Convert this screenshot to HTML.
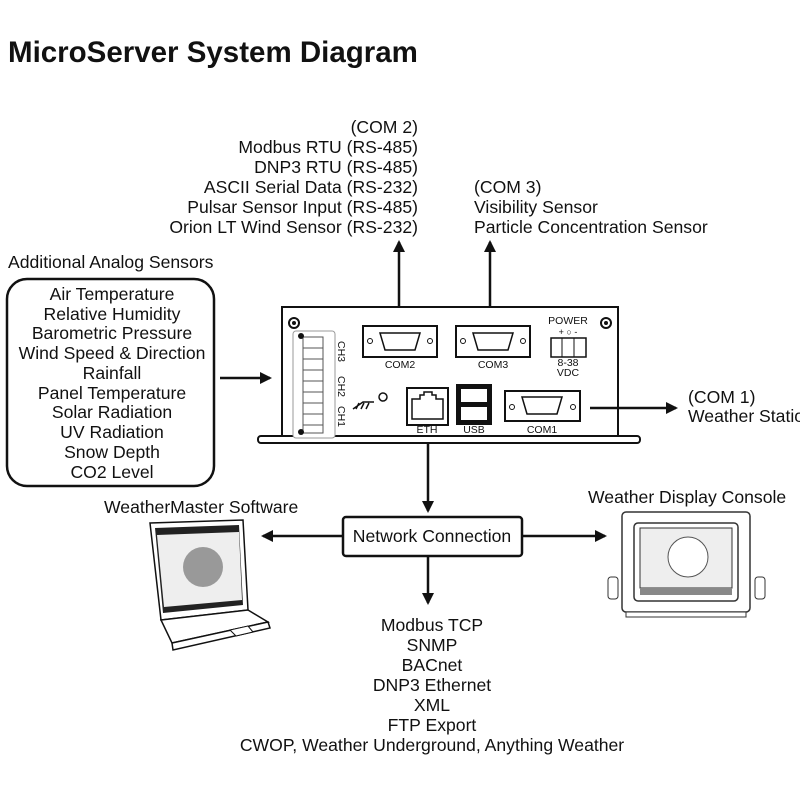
<!DOCTYPE html>
<html><head><meta charset="utf-8"><style>
html,body{margin:0;padding:0;background:#fff;width:800px;height:800px;overflow:hidden}
svg{display:block}
text{font-family:"Liberation Sans",Arial,sans-serif;fill:#111}
</style></head><body>
<svg width="800" height="800" viewBox="0 0 800 800" xmlns="http://www.w3.org/2000/svg">
<defs>
<marker id="ah" markerWidth="12" markerHeight="12" refX="10" refY="6" orient="auto" markerUnits="userSpaceOnUse">
<path d="M0,0 L12,6 L0,12 z" fill="#111"/></marker>
</defs>
<text x="8" y="62" font-size="29.5" font-weight="bold">MicroServer System Diagram</text>

<g font-size="17.6" text-anchor="end">
<text x="418" y="133">(COM 2)</text>
<text x="418" y="153">Modbus RTU (RS-485)</text>
<text x="418" y="173">DNP3 RTU (RS-485)</text>
<text x="418" y="193">ASCII Serial Data (RS-232)</text>
<text x="418" y="213">Pulsar Sensor Input (RS-485)</text>
<text x="418" y="233">Orion LT Wind Sensor (RS-232)</text>
</g>
<g font-size="17.6">
<text x="474" y="193">(COM 3)</text>
<text x="474" y="213">Visibility Sensor</text>
<text x="474" y="233">Particle Concentration Sensor</text>
<text x="8" y="268">Additional Analog Sensors</text>
<text x="688" y="403">(COM 1)</text>
<text x="688" y="422">Weather Station</text>
<text x="104" y="513">WeatherMaster Software</text>
<text x="588" y="503">Weather Display Console</text>
</g>
<line x1="399" y1="313" x2="399" y2="242" stroke="#111" stroke-width="2.5" marker-end="url(#ah)"/>
<line x1="490" y1="313" x2="490" y2="242" stroke="#111" stroke-width="2.5" marker-end="url(#ah)"/>

<rect x="7" y="279" width="207" height="207" rx="20" fill="#fff" stroke="#111" stroke-width="2.5"/>
<g font-size="17.6" text-anchor="middle">
<text x="112" y="300">Air Temperature</text>
<text x="112" y="320">Relative Humidity</text>
<text x="112" y="339">Barometric Pressure</text>
<text x="112" y="359">Wind Speed &amp; Direction</text>
<text x="112" y="379">Rainfall</text>
<text x="112" y="399">Panel Temperature</text>
<text x="112" y="418">Solar Radiation</text>
<text x="112" y="438">UV Radiation</text>
<text x="112" y="458">Snow Depth</text>
<text x="112" y="478">CO2 Level</text>
</g>
<line x1="220" y1="378" x2="270" y2="378" stroke="#111" stroke-width="2.5" marker-end="url(#ah)"/>

<!-- device -->
<rect x="282" y="307" width="336" height="130" fill="#fff" stroke="#111" stroke-width="2"/>
<rect x="258" y="436" width="382" height="7" rx="3" fill="#fff" stroke="#111" stroke-width="2"/>
<circle cx="294" cy="323" r="5" fill="none" stroke="#111" stroke-width="2"/><circle cx="294" cy="323" r="2" fill="#111"/>
<circle cx="606" cy="323" r="5" fill="none" stroke="#111" stroke-width="2"/><circle cx="606" cy="323" r="2" fill="#111"/>
<rect x="293" y="331" width="42" height="107" rx="3" fill="#fff" stroke="#999" stroke-width="1"/>
<g stroke="#555" fill="#fff" stroke-width="1">
<rect x="303" y="337" width="20" height="11"/><rect x="303" y="348" width="20" height="11"/><rect x="303" y="359" width="20" height="11"/><rect x="303" y="370" width="20" height="11"/><rect x="303" y="381" width="20" height="11"/><rect x="303" y="392" width="20" height="11"/><rect x="303" y="403" width="20" height="11"/><rect x="303" y="414" width="20" height="11"/><rect x="303" y="425" width="20" height="8"/>
</g>
<circle cx="301" cy="336" r="3" fill="#111"/><circle cx="301" cy="432" r="3" fill="#111"/>
<g font-size="10.5" transform="rotate(90)">
<text x="341" y="-338">CH3</text><text x="376" y="-338">CH2</text><text x="406" y="-338">CH1</text>
</g>
<path d="M353,409 L363,402 L374,402 M356,409 L359,403 M361,409 L364,403 M366,409 L369,403" stroke="#111" stroke-width="1.5" fill="none"/>
<circle cx="383" cy="397" r="4" fill="#fff" stroke="#111" stroke-width="1.5"/>

<rect x="363" y="326" width="74" height="31" fill="#fff" stroke="#111" stroke-width="2"/>
<path d="M380,333 h40 l-5,17 h-30 z" fill="#fff" stroke="#111" stroke-width="1.5"/>
<circle cx="370" cy="341" r="2.5" fill="none" stroke="#111"/><circle cx="430" cy="341" r="2.5" fill="none" stroke="#111"/>
<text x="400" y="368" font-size="10.5" text-anchor="middle">COM2</text>
<rect x="456" y="326" width="74" height="31" fill="#fff" stroke="#111" stroke-width="2"/>
<path d="M473,333 h40 l-5,17 h-30 z" fill="#fff" stroke="#111" stroke-width="1.5"/>
<circle cx="463" cy="341" r="2.5" fill="none" stroke="#111"/><circle cx="523" cy="341" r="2.5" fill="none" stroke="#111"/>
<text x="493" y="368" font-size="10.5" text-anchor="middle">COM3</text>
<text x="568" y="324" font-size="10.5" text-anchor="middle">POWER</text>
<text x="568" y="335" font-size="9" text-anchor="middle">+ ○ -</text>
<rect x="551" y="338" width="35" height="19" fill="#fff" stroke="#111" stroke-width="1.5"/>
<line x1="562" y1="338" x2="562" y2="357" stroke="#111"/><line x1="574" y1="338" x2="574" y2="357" stroke="#111"/>
<text x="568" y="366" font-size="10.5" text-anchor="middle">8-38</text>
<text x="568" y="376" font-size="10.5" text-anchor="middle">VDC</text>

<rect x="407" y="388" width="41" height="37" fill="#fff" stroke="#111" stroke-width="2"/>
<path d="M412,419 v-20 h8 v-4 h4 v-3 h8 v3 h4 v4 h7 v20 z" fill="#fff" stroke="#111" stroke-width="1.5"/>
<text x="427" y="433" font-size="10.5" text-anchor="middle">ETH</text>
<rect x="456" y="384" width="36" height="41" fill="#111"/>
<rect x="461" y="389" width="26" height="13" fill="#fff"/><rect x="461" y="407" width="26" height="13" fill="#fff"/>
<text x="474" y="433" font-size="10.5" text-anchor="middle">USB</text>
<rect x="505" y="391" width="75" height="30" fill="#fff" stroke="#111" stroke-width="2"/>
<path d="M522,397 h40 l-5,17 h-30 z" fill="#fff" stroke="#111" stroke-width="1.5"/>
<circle cx="512" cy="407" r="2.5" fill="none" stroke="#111"/><circle cx="573" cy="407" r="2.5" fill="none" stroke="#111"/>
<text x="542" y="433" font-size="10.5" text-anchor="middle">COM1</text>

<line x1="590" y1="408" x2="676" y2="408" stroke="#111" stroke-width="2.5" marker-end="url(#ah)"/>
<line x1="428" y1="444" x2="428" y2="511" stroke="#111" stroke-width="2.5" marker-end="url(#ah)"/>
<rect x="343" y="517" width="179" height="39" rx="3" fill="#fff" stroke="#111" stroke-width="2.5"/>
<text x="432" y="542" font-size="17.6" text-anchor="middle">Network Connection</text>
<line x1="343" y1="536" x2="263" y2="536" stroke="#111" stroke-width="2.5" marker-end="url(#ah)"/>
<line x1="522" y1="536" x2="605" y2="536" stroke="#111" stroke-width="2.5" marker-end="url(#ah)"/>
<line x1="428" y1="556" x2="428" y2="603" stroke="#111" stroke-width="2.5" marker-end="url(#ah)"/>
<g font-size="17.6" text-anchor="middle">
<text x="432" y="631">Modbus TCP</text>
<text x="432" y="651">SNMP</text>
<text x="432" y="671">BACnet</text>
<text x="432" y="691">DNP3 Ethernet</text>
<text x="432" y="711">XML</text>
<text x="432" y="731">FTP Export</text>
<text x="432" y="751">CWOP, Weather Underground, Anything Weather</text>
</g>

<!-- laptop -->
<path d="M150,523 L243,520 L248,610 L161,620 Z" fill="#fff" stroke="#111" stroke-width="1.5"/>
<path d="M155,528 L239,525 L243,605 L163,613 Z" fill="#222"/>
<path d="M157,535 L239,532 L242,600 L164,607 Z" fill="#eee"/>
<circle cx="203" cy="567" r="20" fill="#999"/>
<path d="M161,620 L248,610 L268,622 L172,643 Z" fill="#fff" stroke="#111" stroke-width="1.5"/>
<path d="M172,643 L268,622 L270,628 L173,650 Z" fill="#fff" stroke="#111" stroke-width="1.5"/>
<path d="M230,630 L248,626 L253,632 L236,636 Z" fill="#fff" stroke="#111"/>

<!-- console -->
<rect x="622" y="512" width="128" height="100" rx="4" fill="#fff" stroke="#333" stroke-width="1.5"/>
<rect x="634" y="523" width="104" height="78" rx="4" fill="#fff" stroke="#333" stroke-width="1.5"/>
<rect x="640" y="528" width="92" height="60" fill="#eee" stroke="#333"/>
<circle cx="688" cy="557" r="20" fill="#fff" stroke="#555"/>
<rect x="640" y="588" width="92" height="7" fill="#888"/>
<rect x="626" y="612" width="120" height="5" fill="#fff" stroke="#333"/>
<rect x="608" y="577" width="10" height="22" rx="3" fill="#fff" stroke="#333"/>
<rect x="755" y="577" width="10" height="22" rx="3" fill="#fff" stroke="#333"/>
</svg>
</body></html>
